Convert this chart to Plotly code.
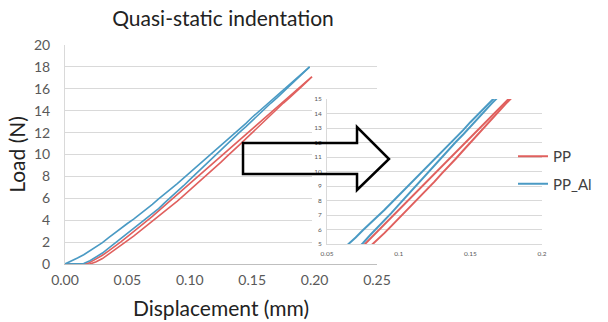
import plotly.graph_objects as go

# ---- data (displacement in mm, load in N) ----
pp_al_1_x = [0.000, 0.005, 0.010, 0.015, 0.020, 0.025, 0.030, 0.035, 0.040, 0.045, 0.050, 0.055, 0.060,
             0.065, 0.070, 0.075, 0.080, 0.085, 0.090, 0.095, 0.100, 0.105, 0.110, 0.115, 0.120, 0.125,
             0.130, 0.135, 0.140, 0.145, 0.150, 0.155, 0.160, 0.165, 0.170, 0.175, 0.180, 0.185, 0.190, 0.196]
pp_al_1_y = [0.0, 0.25, 0.55, 0.85, 1.2, 1.55, 1.95, 2.4, 2.85, 3.25, 3.7, 4.1, 4.55,
             4.95, 5.45, 5.95, 6.4, 6.9, 7.35, 7.85, 8.35, 8.8, 9.3, 9.8, 10.3, 10.8,
             11.35, 11.85, 12.35, 12.85, 13.4, 13.9, 14.4, 14.9, 15.4, 15.9, 16.4, 16.9, 17.4, 18.0]

pp_al_2_x = [0.000, 0.010, 0.015, 0.020, 0.025, 0.030, 0.035, 0.040, 0.045, 0.050, 0.055, 0.060, 0.065,
             0.070, 0.075, 0.080, 0.085, 0.090, 0.095, 0.100, 0.105, 0.110, 0.115, 0.120, 0.125, 0.130,
             0.135, 0.140, 0.145, 0.150, 0.155, 0.160, 0.165, 0.170, 0.175, 0.180, 0.185, 0.190, 0.196]
pp_al_2_y = [0.0, 0.0, 0.05, 0.3, 0.65, 1.0, 1.45, 1.9, 2.35, 2.8, 3.25, 3.7, 4.15,
             4.6, 5.05, 5.6, 6.1, 6.6, 7.15, 7.7, 8.25, 8.8, 9.35, 9.9, 10.45, 11.0,
             11.5, 12.05, 12.55, 13.1, 13.65, 14.2, 14.7, 15.2, 15.75, 16.3, 16.85, 17.4, 18.0]

pp_1_x = [0.000, 0.010, 0.017, 0.020, 0.025, 0.030, 0.035, 0.040, 0.045, 0.050, 0.055, 0.060, 0.065,
          0.070, 0.075, 0.080, 0.085, 0.090, 0.095, 0.100, 0.105, 0.110, 0.115, 0.120, 0.125, 0.130,
          0.135, 0.140, 0.145, 0.150, 0.155, 0.160, 0.165, 0.170, 0.175, 0.180, 0.185, 0.190, 0.1977]
pp_1_y = [0.0, 0.0, 0.0, 0.15, 0.45, 0.8, 1.2, 1.6, 2.05, 2.5, 2.95, 3.4, 3.85,
          4.35, 4.85, 5.35, 5.8, 6.3, 6.8, 7.3, 7.8, 8.3, 8.8, 9.3, 9.8, 10.3,
          10.8, 11.3, 11.8, 12.3, 12.8, 13.3, 13.8, 14.3, 14.8, 15.3, 15.8, 16.3, 17.1]

pp_2_x = [0.000, 0.020, 0.025, 0.030, 0.035, 0.040, 0.045, 0.050, 0.055, 0.060, 0.065, 0.070, 0.075,
          0.080, 0.085, 0.090, 0.095, 0.100, 0.105, 0.110, 0.115, 0.120, 0.125, 0.130, 0.135, 0.140,
          0.145, 0.150, 0.155, 0.160, 0.165, 0.170, 0.175, 0.180, 0.185, 0.190, 0.198]
pp_2_y = [0.0, 0.0, 0.2, 0.5, 0.9, 1.3, 1.7, 2.1, 2.55, 3.0, 3.45, 3.9, 4.35,
          4.8, 5.25, 5.75, 6.25, 6.75, 7.25, 7.75, 8.25, 8.8, 9.3, 9.85, 10.35, 10.9,
          11.45, 12.0, 12.55, 13.1, 13.65, 14.2, 14.7, 15.2, 15.7, 16.25, 17.1]

series_names = ["PP", "PP_Al"]
main_x_ticks = [0.00, 0.05, 0.10, 0.15, 0.20, 0.25]
inset_x_ticks = [0.05, 0.1, 0.15, 0.2]

RED = "#E0605E"
BLUE = "#4A9AC4"
W, H = 608, 322

def px_x(p):
    return p / W

def px_y(p):
    return 1 - p / H

fig = go.Figure()

curves = [
    (pp_1_x, pp_1_y, RED, series_names[0], True),
    (pp_2_x, pp_2_y, RED, series_names[0], False),
    (pp_al_1_x, pp_al_1_y, BLUE, series_names[1], True),
    (pp_al_2_x, pp_al_2_y, BLUE, series_names[1], False),
]

# main chart
for xs, ys, col, name, _ in curves:
    fig.add_trace(go.Scatter(x=xs, y=ys, mode="lines", line=dict(color=col, width=1.6),
                             name=name, legendgroup=name, showlegend=False,
                             xaxis="x", yaxis="y", hoverinfo="skip"))

# white cover box behind the inset (empty subplot)
fig.add_trace(go.Scatter(x=[], y=[], xaxis="x2", yaxis="y2", showlegend=False))

# inset
for xs, ys, col, name, show in curves:
    fig.add_trace(go.Scatter(x=xs, y=ys, mode="lines", line=dict(color=col, width=2),
                             name=name, legendgroup=name, showlegend=show,
                             xaxis="x3", yaxis="y3", hoverinfo="skip"))

GRID = "#D9D9D9"
TICKC = "#595959"
TXT = "#222222"
FONT = "Lato, Open Sans, sans-serif"

fig.update_layout(
    template="none",
    width=W, height=H,
    margin=dict(l=0, r=0, t=0, b=0, autoexpand=False),
    paper_bgcolor="white", plot_bgcolor="white",
    font=dict(family=FONT, color=TICKC),
    title=dict(text="Quasi-static indentation", x=px_x(223), xanchor="center",
               y=px_y(19), yanchor="middle", xref="container", yref="container",
               font=dict(size=21, color=TXT, family=FONT)),
    xaxis=dict(domain=[px_x(65), px_x(377)], range=[0, 0.25], tickvals=main_x_ticks,
               tickformat=".2f", showgrid=False, zeroline=False, showline=True,
               linecolor="#BFBFBF", linewidth=1, ticks="", ticklabelstandoff=3,
               tickfont=dict(size=14, color=TICKC), automargin=False,
               title=dict(text="Displacement (mm)", font=dict(size=21, color=TXT), standoff=14),
               anchor="y", fixedrange=True),
    yaxis=dict(domain=[px_y(264), px_y(45)], range=[0, 20], dtick=2, showgrid=True,
               gridcolor=GRID, gridwidth=1, zeroline=False, showline=True, linecolor=GRID,
               ticks="", ticklabelstandoff=11, tickfont=dict(size=14, color=TICKC),
               automargin=False,
               title=dict(text="Load (N)", font=dict(size=21, color=TXT), standoff=2),
               anchor="x", fixedrange=True),
    xaxis2=dict(domain=[px_x(312), px_x(545)], visible=False, anchor="y2", range=[0, 1],
                automargin=False),
    yaxis2=dict(domain=[px_y(262), px_y(92)], visible=False, anchor="x2", range=[0, 1],
                automargin=False),
    xaxis3=dict(domain=[px_x(327), px_x(542)], range=[0.05, 0.2], tickvals=inset_x_ticks,
                showgrid=False, zeroline=False, showline=True, linecolor=GRID,
                ticks="", ticklabelstandoff=3, tickfont=dict(size=6.5, color=TICKC),
                automargin=False, anchor="y3", fixedrange=True),
    yaxis3=dict(domain=[px_y(244), px_y(99)], range=[5, 15], dtick=1, showgrid=True,
                gridcolor=GRID, gridwidth=1, zeroline=False, showline=True, linecolor=GRID,
                ticks="", ticklabelstandoff=3, tickfont=dict(size=6.5, color=TICKC),
                automargin=False, anchor="x3", fixedrange=True),
    legend=dict(x=px_x(513), y=px_y(140), xanchor="left", yanchor="top",
                bgcolor="rgba(0,0,0,0)", font=dict(size=15, color="#404040"),
                tracegroupgap=5, itemclick=False),
)

# outlined block arrow (decoration), pixel positions converted to paper coords
arrow_px = [(243, 143), (357, 143), (357, 127), (389, 159), (357, 190), (357, 174), (243, 174)]
path = "M " + " L ".join(f"{px_x(a):.4f},{px_y(b):.4f}" for a, b in arrow_px) + " Z"
fig.add_shape(type="path", path=path, xref="paper", yref="paper",
              line=dict(color="black", width=2.5), fillcolor="rgba(0,0,0,0)", layer="above")

fig.write_html("out.html", config={"displayModeBar": False},
               post_script="document.body.style.margin='0px';")
